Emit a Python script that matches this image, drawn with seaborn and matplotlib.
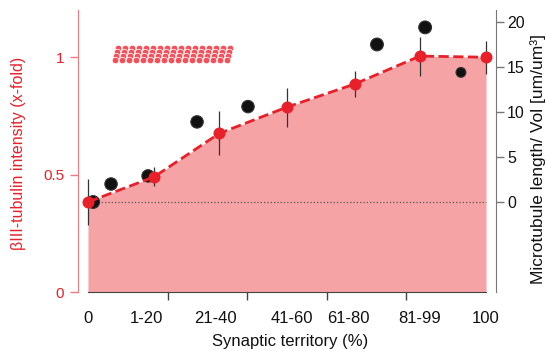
import matplotlib
matplotlib.use("Agg")
import matplotlib.pyplot as plt
import numpy as np
import pandas as pd
import seaborn as sns

# βIII-tubulin intensity (left axis, x-fold)
red_x = [0, 16.6, 33, 50, 67, 83.4, 100]
red_y = [0.383, 0.49, 0.675, 0.787, 0.885, 1.004, 0.999]
red_err = [0.098, 0.04, 0.094, 0.083, 0.057, 0.083, 0.07]

# microtubule length / volume (right axis)
mt_x = [1.3, 5.8, 15.1, 27.4, 40.2, 72.6, 84.7, 93.7]
mt_y = [0.0, 2.0, 2.9, 8.9, 10.6, 17.5, 19.4, 14.4]
mt_size = [85, 80, 80, 80, 80, 85, 85, 50]

# x axis labels
tick_pos = [0, 14.6, 31.9, 51.3, 65.3, 83.2, 100]
tick_labels = ["0", "1-20", "21-40", "41-60", "61-80", "81-99", "100"]
bound_ticks = [20, 40, 60, 80, 100]

RED = "#e8202a"
PINK = "#f6a3a6"

sns.set_style("white")
plt.rcParams['font.family'] = ['Liberation Sans', 'DejaVu Sans']

fig = plt.figure(figsize=(5.46, 3.51), dpi=100)
ax = fig.add_axes([0.1429, 0.168, 0.7655, 0.8035])
ax2 = ax.twinx()
ax3 = ax.twinx()

# zone remplie sous la courbe rouge
ax.fill_between(red_x, 0, red_y, color=PINK, linewidth=0, zorder=1)
ax.set_xlim(-2.5, 102.5)
ax.set_ylim(0, 1.2)

# motif en haut à gauche (artefact de légende)
pat_x = np.arange(7.6, 36.5, 1.75)
for k, dy in enumerate([0.024, 0.008, -0.008, -0.024]):
    ax.scatter(pat_x - 0.25 * k, np.full(len(pat_x), 1.013 + dy), s=22,
               facecolor="#f5505a", edgecolor="white", linewidth=0.5,
               zorder=3)

# points noirs (axe droit)
ax2.hlines(0, 0, 100, color="#555555", linestyle=":", linewidth=0.9, zorder=2)
df_mt = pd.DataFrame({"x": mt_x, "y": mt_y, "s": mt_size})
ax2.scatter(df_mt["x"], df_mt["y"], s=df_mt["s"], color="#111111",
            edgecolor="#333333", linewidth=0.8, zorder=3)
ax2.set_ylim(-10, 21.33)

# courbe rouge
ax3.set_ylim(ax.get_ylim())
ax3.errorbar(red_x, red_y, yerr=red_err, fmt="none", ecolor="#333333",
             elinewidth=0.9, capsize=0, zorder=2)
df_red = pd.DataFrame({"x": red_x, "y": red_y})
sns.lineplot(data=df_red, x="x", y="y", ax=ax3, color=RED, linestyle="--",
             linewidth=2.0, zorder=3)
sns.scatterplot(data=df_red, x="x", y="y", ax=ax3, color=RED, s=75,
                edgecolor=RED, linewidth=0, zorder=4)
ax3.set_xlim(-2.5, 102.5)
ax3.axis("off")

# axe gauche
for sp in ["top", "right"]:
    ax.spines[sp].set_visible(False)
ax.spines["left"].set_color("#f07a7f")
ax.spines["bottom"].set_color("#444444")
ax.spines["bottom"].set_bounds(0, 100)
ax.set_yticks([0, 0.5, 1])
ax.set_yticklabels(["0", "0.5", "1"])
ax.tick_params(axis="y", colors="#f07a7f", labelcolor=RED, length=6,
               width=1, labelsize=11, left=True, pad=4)
ax.set_xticks(tick_pos)
ax.set_xticklabels(tick_labels)
ax.set_xticks(bound_ticks, minor=True)
ax.tick_params(axis="x", which="major", length=0, labelsize=12, pad=14,
               labelcolor="#111111")
ax.tick_params(axis="x", which="minor", length=6, width=1, color="#444444",
               bottom=True)
ax.set_ylabel("βIII-tubulin intensity (x-fold)", color=RED, fontsize=11.5)
ax.yaxis.set_label_coords(-0.125, 0.49)
ax.set_xlabel("Synaptic territory (%)", fontsize=12, color="#111111")
ax.xaxis.set_label_coords(0.507, -0.148)

# axe droit
for sp in ["top", "left", "bottom"]:
    ax2.spines[sp].set_visible(False)
ax2.spines["right"].set_color("#777777")
ax2.set_yticks([0, 5, 10, 15, 20])
ax2.tick_params(axis="y", colors="#777777", labelcolor="#111111", length=6,
                width=1, labelsize=11.5, right=True, pad=2)
ax2.set_ylabel("Microtubule length/ Vol [um/um³]", fontsize=12.5,
               color="#111111")
ax2.yaxis.set_label_coords(1.082, 0.47)

fig.savefig("out.png", dpi=100)
